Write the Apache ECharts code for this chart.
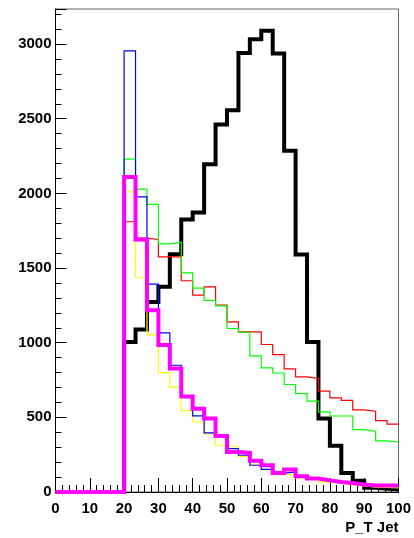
<!DOCTYPE html>
<html>
<head>
<meta charset="utf-8">
<script src="https://cdn.jsdelivr.net/npm/echarts@6/dist/echarts.min.js"></script>
<style>
	html, body { margin: 0; padding: 0; background: #fff; }
	#chart { width: 414px; height: 538px; }
</style>
</head>
<body>
<div id="chart"></div>
<script>
	// 30 bins from 0 to 100, counts per bin
	const binWidth = 100 / 30
	const blackCounts = [0, 0, 0, 0, 0, 0, 1005, 1088, 1273, 1374, 1593, 1825, 1872, 2196, 2462, 2557, 2941, 3033, 3089, 2937, 2285, 1590, 1005, 492, 310, 128, 76, 29, 22, 16]
	const redCounts = [0, 0, 0, 0, 0, 0, 1810, 1700, 1691, 1575, 1575, 1415, 1318, 1374, 1251, 1139, 1072, 1072, 988, 920, 825, 771, 760, 675, 630, 614, 550, 541, 478, 454]
	const greenCounts = [0, 0, 0, 0, 0, 0, 2230, 2028, 1926, 1662, 1673, 1467, 1365, 1284, 1246, 1095, 1070, 912, 832, 797, 720, 659, 608, 536, 509, 509, 418, 407, 342, 335]
	const yellowCounts = [0, 0, 0, 0, 0, 0, 2010, 1435, 1052, 800, 702, 545, 469, 391, 313, 302, 239, 186, 150, 120, 116, 95, 82, 68, 58, 48, 40, 32, 30, 28]
	const blueCounts = [0, 0, 0, 0, 0, 0, 2955, 1977, 1392, 1066, 849, 640, 510, 396, 372, 291, 246, 179, 152, 126, 134, 100, 85, 72, 62, 55, 47, 42, 40, 40]
	const magentaCounts = [0, 0, 0, 0, 0, 0, 2110, 1691, 1217, 985, 827, 639, 557, 492, 375, 268, 262, 210, 180, 128, 150, 105, 90, 78, 67, 60, 50, 43, 43, 43]
	const yMax = 3235

	const font = { color: '#000', fontFamily: 'Liberation Sans', fontWeight: 'bold', fontSize: 15 }

	// points at the left edge of each bin, plus the right edge of the last one
	const toSteps = (counts) => {
		let pts = counts.map((v, i) => [i * binWidth, v])
		pts.push([100, counts[counts.length - 1]])
		return pts
	}
	const histo = (counts, color, width, clip) => ({
		type: 'line',
		step: 'end',
		symbol: 'none',
		clip: clip,
		animation: false,
		data: toSteps(counts),
		lineStyle: { color: color, width: width, join: 'miter' }
	})

	const chart = echarts.init(document.getElementById('chart'))
	chart.setOption({
		animation: false,
		grid: { left: 55.5, right: 10.5, top: 9, bottom: 46, show: true, borderColor: '#666', borderWidth: 1 },
		xAxis: [{
			type: 'value', position: 'bottom', min: 0, max: 100, interval: 2,
			axisLine: { lineStyle: { color: '#000', width: 1 } },
			axisTick: { inside: true, length: 7, lineStyle: { color: '#000' } },
			axisLabel: { show: false },
			splitLine: { show: false },
			name: 'P_T Jet', nameLocation: 'end', nameGap: 0,
			nameTextStyle: Object.assign({}, font, { align: 'right', verticalAlign: 'top', padding: [28, 0, 0, 0] })
		}, {
			type: 'value', position: 'bottom', min: 0, max: 100, interval: 10,
			axisLine: { show: false },
			axisTick: { inside: true, length: 14, lineStyle: { color: '#000' } },
			axisLabel: Object.assign({}, font, { margin: 9 }),
			splitLine: { show: false }
		}],
		yAxis: [{
			type: 'value', position: 'left', min: 0, max: yMax, interval: 100,
			axisLine: { show: true, lineStyle: { color: '#000', width: 1 } },
			axisTick: { inside: true, length: 6, lineStyle: { color: '#000' } },
			axisLabel: Object.assign({}, font, {
				margin: 4,
				formatter: (v) => (v % 500 === 0 ? String(v) : '')
			}),
			splitLine: { show: false }
		}, {
			type: 'value', position: 'left', min: 0, max: yMax, interval: 500,
			axisLine: { show: false },
			axisTick: { inside: true, length: 11, lineStyle: { color: '#000' } },
			axisLabel: { show: false },
			splitLine: { show: false }
		}],
		series: [
			histo(blackCounts, '#000000', 4, true),
			histo(redCounts, '#ff0000', 1.2, true),
			histo(greenCounts, '#00ff00', 1.2, true),
			histo(yellowCounts, '#ffff00', 1.2, true),
			histo(blueCounts, '#0000ff', 1.2, true),
			histo(magentaCounts, '#ff00ff', 4, false)
		]
	})
</script>
</body>
</html>
